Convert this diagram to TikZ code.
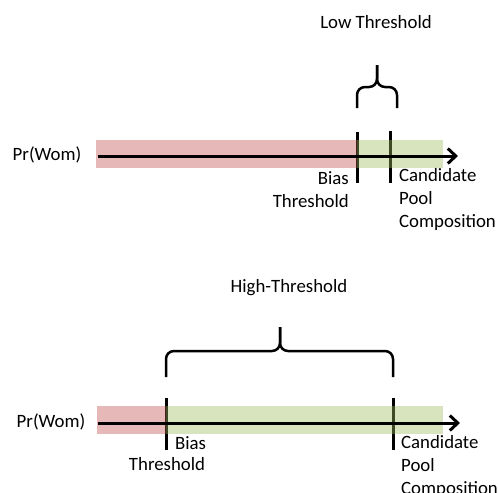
\documentclass[tikz,border=0pt]{standalone}
\usepackage{fontspec}
\setmainfont{Carlito}
\usetikzlibrary{arrows.meta}
\definecolor{biasred}{HTML}{C0504D}
\definecolor{poolgreen}{HTML}{9BBB59}
\begin{document}
\begin{tikzpicture}[x=1pt,y=-1pt,
    every node/.style={font=\fontsize{18.8}{23}\selectfont,inner sep=0pt},
    band/.style={opacity=0.4},
    tick/.style={line width=3pt},
    axis/.style={line width=3pt,-{Straight Barb[length=8pt,width=15pt]}},
    bracket/.style={line width=2.5pt,rounded corners=8pt}]
        \useasboundingbox (0,0) rectangle (499,493);
        % low threshold
        \node (lowlabel) at (376,22) {Low Threshold};
        \draw[bracket] (357,108) -- (357,87) -- (377,87) -- (377,65);
        \draw[bracket] (377,65) -- (377,87) -- (397,87) -- (397,108);
        \coordinate (lowbiastop) at (357,132);
        \coordinate (lowbiasbot) at (357,183);
        \coordinate (lowpooltop) at (390,131);
        \coordinate (lowpoolbot) at (390,183);
        \draw[tick] (lowbiastop) -- (lowbiasbot);
        \draw[tick] (lowpooltop) -- (lowpoolbot);
        \fill[band,biasred] (96,140) rectangle (357,168);
        \fill[band,poolgreen] (357,140) rectangle (443,168);
        \node (lowpr) at (47,155) {Pr(Wom)};
        \coordinate (lowstart) at (98,156);
        \coordinate (lowend) at (458,156);
        \draw[axis] (lowstart) -- (lowend);
        \node[anchor=east,align=right] (lowbias) at (349,190) {Bias\\Threshold};
        \node[anchor=west,align=left] (lowpool) at (399,199) {Candidate\\Pool\\Composition};
        % high threshold
        \node (highlabel) at (289,288) {High-Threshold};
        \draw[bracket] (166,377) -- (166,351) -- (280,351) -- (280,327);
        \draw[bracket] (280,327) -- (280,351) -- (393,351) -- (393,377);
        \coordinate (highbiastop) at (166,398);
        \coordinate (highbiasbot) at (166,450);
        \coordinate (highpooltop) at (393,398);
        \coordinate (highpoolbot) at (393,450);
        \draw[tick] (highbiastop) -- (highbiasbot);
        \draw[tick] (highpooltop) -- (highpoolbot);
        \fill[band,biasred] (97,406) rectangle (166,434);
        \fill[band,poolgreen] (166,406) rectangle (443,434);
        \node (highpr) at (51,422) {Pr(Wom)};
        \coordinate (highstart) at (98,423);
        \coordinate (highend) at (460,423);
        \draw[axis] (highstart) -- (highend);
        \node[anchor=west] (highbias) at (175,443) {Bias};
        \node (highthr) at (167,464) {Threshold};
        \node[anchor=west,align=left] (highpool) at (401,466) {Candidate\\Pool\\Composition};
    \end{tikzpicture}
\end{document}
